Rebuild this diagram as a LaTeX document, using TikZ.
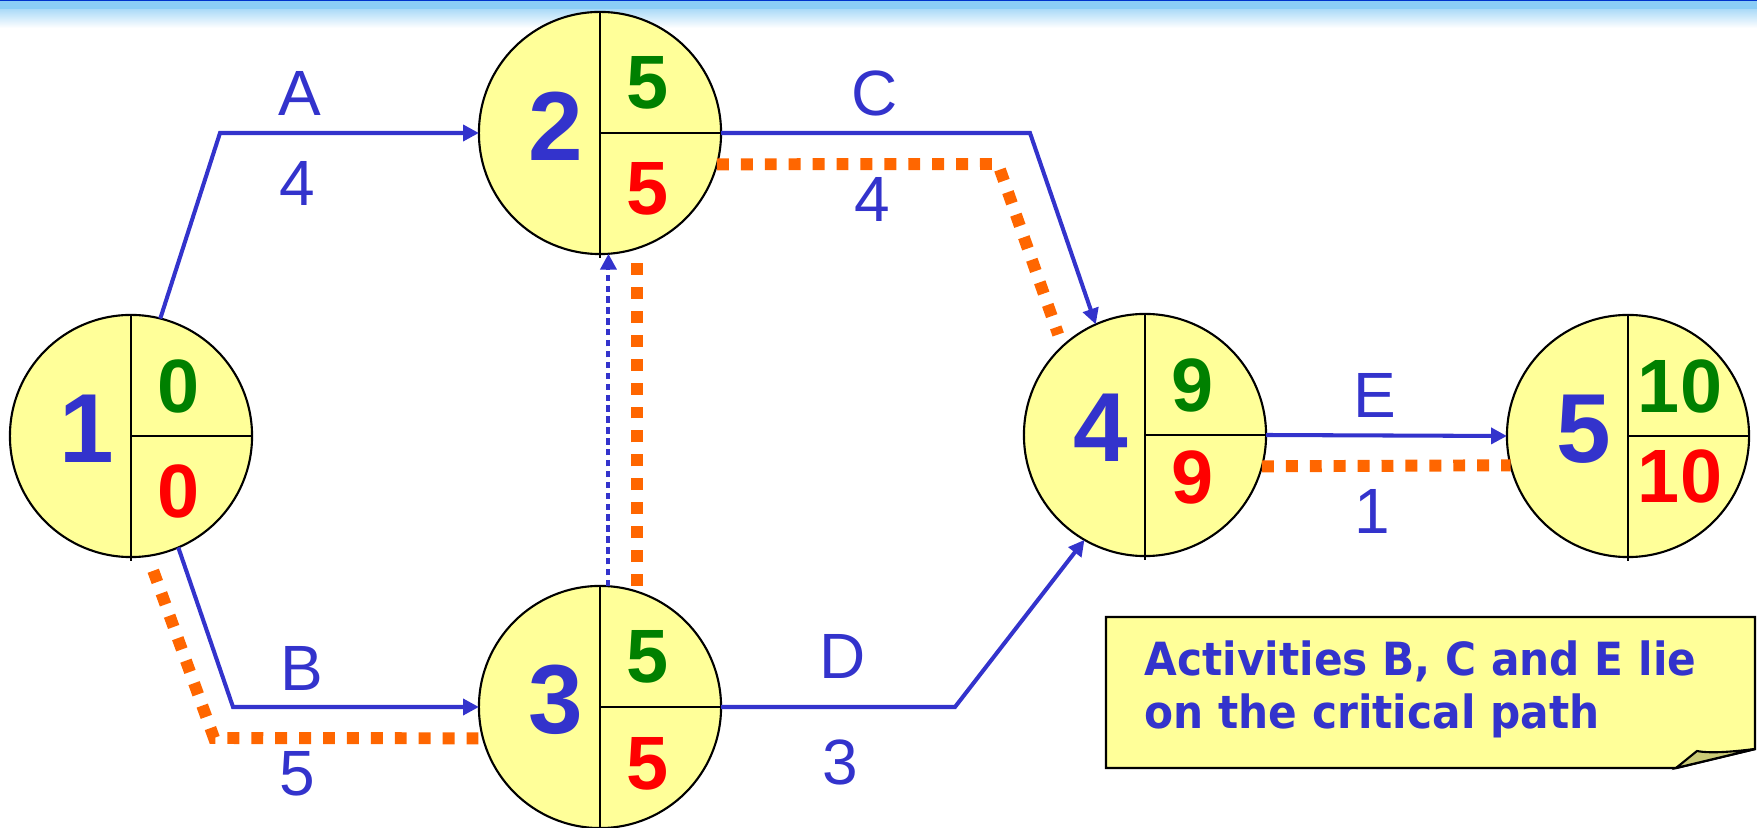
\documentclass[tikz,border=0pt]{standalone}
\usepackage{fontspec}
\setmainfont{Liberation Sans}
\newfontfamily\notefont[FakeStretch=0.925]{DejaVu Sans}
\usetikzlibrary{arrows.meta,calc}

\definecolor{inkblue}{HTML}{3333CC}
\definecolor{esgreen}{HTML}{008000}
\definecolor{lsred}{HTML}{FF0000}
\definecolor{evtfill}{HTML}{FFFF99}
\definecolor{critorange}{HTML}{FF6600}
\definecolor{foldfill}{HTML}{CCCC77}
\definecolor{bannerdark}{HTML}{0033CC}
\definecolor{bannerlight}{HTML}{8CCDF6}
\definecolor{bannerfade}{HTML}{B0DCF8}

% event circle: name, x, y, number, earliest, latest, y offset of latest,
% x offset of the two times
\newcommand{\eventcircle}[8]{%
  \node[evt] (#1) at (#2,#3) {};
  \draw[divider] (#1.north) -- ([shift={(0,4)}]#1.south);
  \draw[divider] (#1.center) -- (#1.east);
  \node[idnum] (#1-id) at ([shift={(-44,-7)}]#1.center) {#4};
  \node[esnum] (#1-es) at ([shift={(#8,-50)}]#1.center) {#5};
  \node[lsnum] (#1-ls) at ([shift={(#8,#7)}]#1.center) {#6};
}

\begin{document}
\begin{tikzpicture}[x=0.01cm, y=-0.01cm,
  evt/.style={circle, draw=black, line width=0.6pt, fill=evtfill,
    minimum size=2.42cm, inner sep=0pt, outer sep=0pt},
  divider/.style={line width=0.45pt, draw=black},
  idnum/.style={inner sep=0pt, text=inkblue,
    font=\fontsize{27.9}{30}\selectfont\bfseries},
  esnum/.style={inner sep=0pt, text=esgreen,
    font=\fontsize{21.5}{24}\selectfont\bfseries},
  lsnum/.style={esnum, text=lsred},
  act/.style={draw=inkblue, line width=1.15pt,
    -{Triangle[length=4.5pt,width=4.5pt]}},
  dummy/.style={act, dash pattern=on 1.8pt off 1.3pt},
  crit/.style={draw=critorange, line width=3.4pt,
    dash pattern=on 3.4pt off 3.4pt},
  lbl/.style={inner sep=0pt, text=inkblue,
    font=\fontsize{18.2}{20}\selectfont},
  notetext/.style={inner sep=0pt, text=inkblue, align=left,
    font=\notefont\fontsize{13}{15.1}\selectfont\bfseries}]

\useasboundingbox (0,0) rectangle (1757,828);

% header band
\fill[bannerdark] (0,0) rectangle (1757,1.3);
\fill[bannerlight] (0,1.3) rectangle (1757,10);
\shade[top color=bannerfade, bottom color=white] (0,10) rectangle (1757,28);

% events
\eventcircle{n1}{131}{436}{1}{0}{0}{55}{48}
\eventcircle{n2}{600}{133}{2}{5}{5}{56}{48}
\eventcircle{n3}{600}{707}{3}{5}{5}{57}{48}
\eventcircle{n4}{1145}{435}{4}{9}{9}{42}{48}
\eventcircle{n5}{1628}{436}{5}{10}{10}{40}{52}

% bends of the activity arrows
\coordinate (a-bend) at (220,133);
\coordinate (b-bend) at (233,707);
\coordinate (c-bend) at (1030,133);
\coordinate (d-bend) at (955,707);
% bends of the critical path
\coordinate (cb-bend) at (214,738);
\coordinate (cc-bend) at (998,164);

% critical path
\draw[crit, shorten <=4.5pt] (n1.-82) -- (cb-bend) -- (n3.195);
\draw[crit, shorten <=1.7pt, shorten >=4pt] (n3.72) -- (n2.-72);
\draw[crit, shorten >=3.6pt] (n2.-15) -- (cc-bend) -- (n4.133.5);
\draw[crit] (n4.-15) -- (n5.194);

% activities
\draw[act] (n1.76) -- (a-bend) -- (n2.west);
\draw[act] (n1.-67) -- (b-bend) -- (n3.west);
\draw[act] (n2.east) -- (c-bend) -- (n4.114);
\draw[act] (n3.east) -- (d-bend) -- (n4.-120);
\draw[act] (n4.east) -- (n5.west);
\draw[dummy] (n3.86.7) -- (n2.-86.7);

% activity names and durations
\node[lbl] (lA) at (300,93) {A};
\node[lbl] (dA) at (297,183) {4};
\node[lbl] (lB) at (302,668) {B};
\node[lbl] (dB) at (297,774) {5};
\node[lbl] (lC) at (875,93) {C};
\node[lbl] (dC) at (872,199) {4};
\node[lbl] (lD) at (843,656) {D};
\node[lbl] (dD) at (840,762) {3};
\node[lbl] (lE) at (1375,395) {E};
\node[lbl] (dE) at (1372,511) {1};

% note with folded corner
\draw[line width=0.7pt, fill=evtfill]
  (1106,617) -- (1755,617) -- (1755,749) -- (1676,768) -- (1106,768) -- cycle;
\draw[line width=0.6pt, fill=foldfill]
  (1676,768) -- (1697,751) .. controls (1712,754) and (1738,751) .. (1755,749) -- cycle;
\node[notetext, anchor=north west] (note) at (1144,640)
  {Activities B, C and E lie\\on the critical path};

\end{tikzpicture}
\end{document}
